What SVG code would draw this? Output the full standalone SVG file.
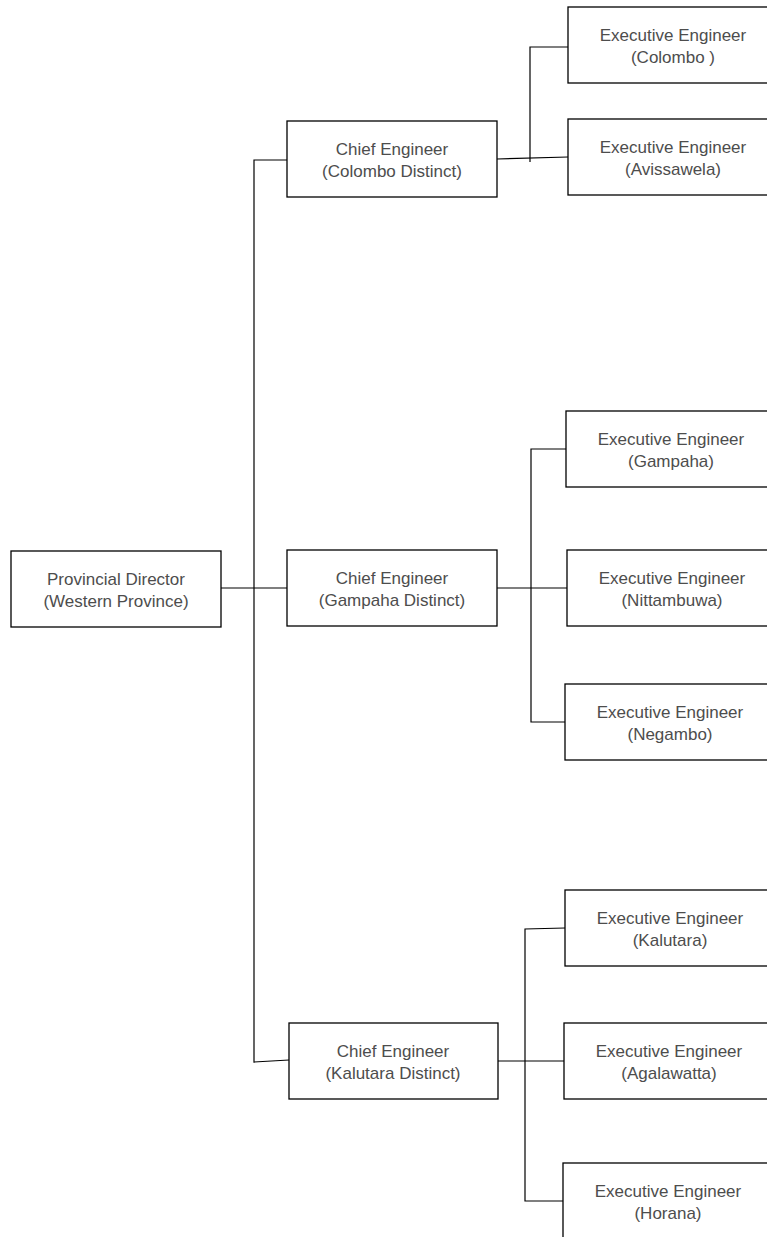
<svg xmlns="http://www.w3.org/2000/svg" width="767" height="1237" viewBox="0 0 767 1237">
<style>
  .box { fill: #ffffff; stroke: #000000; stroke-width: 1.3; }
  .lbl { font-family: "Liberation Sans", Arial, sans-serif; font-size: 17px; fill: #4d4d4d; text-anchor: middle; }
  .conn { stroke: #000000; stroke-width: 1.2; fill: none; }
</style>
<rect x="0" y="0" width="767" height="1237" fill="#ffffff"/>
<g id="connectors">
  <polyline class="conn" points="287,160 254,160 254,1062 289,1060"/>
  <line class="conn" x1="221" y1="588" x2="287" y2="588"/>
  <line class="conn" x1="497" y1="159" x2="568" y2="157"/>
  <polyline class="conn" points="568,47 530,47 530,162"/>
  <polyline class="conn" points="566,449 531,449 531,722 565,722"/>
  <line class="conn" x1="497" y1="588" x2="567" y2="588"/>
  <polyline class="conn" points="565,928 525,929 525,1201 563,1201"/>
  <line class="conn" x1="498" y1="1061" x2="564" y2="1061"/>
</g>
<g id="prov">
  <rect class="box" x="11" y="551" width="210" height="76"/>
  <text class="lbl" x="116" y="585">Provincial Director</text>
  <text class="lbl" x="116" y="607">(Western Province)</text>
</g>
<g id="ce_colombo">
  <rect class="box" x="287" y="121" width="210" height="76"/>
  <text class="lbl" x="392" y="155">Chief Engineer</text>
  <text class="lbl" x="392" y="177">(Colombo Distinct)</text>
</g>
<g id="ce_gampaha">
  <rect class="box" x="287" y="550" width="210" height="76"/>
  <text class="lbl" x="392" y="584">Chief Engineer</text>
  <text class="lbl" x="392" y="606">(Gampaha Distinct)</text>
</g>
<g id="ce_kalutara">
  <rect class="box" x="289" y="1023" width="209" height="76"/>
  <text class="lbl" x="393" y="1057">Chief Engineer</text>
  <text class="lbl" x="393" y="1079">(Kalutara Distinct)</text>
</g>
<g id="ee_colombo">
  <rect class="box" x="568" y="7" width="210" height="76"/>
  <text class="lbl" x="673" y="41">Executive Engineer</text>
  <text class="lbl" x="673" y="63">(Colombo )</text>
</g>
<g id="ee_avissawela">
  <rect class="box" x="568" y="119" width="210" height="76"/>
  <text class="lbl" x="673" y="153">Executive Engineer</text>
  <text class="lbl" x="673" y="175">(Avissawela)</text>
</g>
<g id="ee_gampaha">
  <rect class="box" x="566" y="411" width="210" height="76"/>
  <text class="lbl" x="671" y="445">Executive Engineer</text>
  <text class="lbl" x="671" y="467">(Gampaha)</text>
</g>
<g id="ee_nittambuwa">
  <rect class="box" x="567" y="550" width="210" height="76"/>
  <text class="lbl" x="672" y="584">Executive Engineer</text>
  <text class="lbl" x="672" y="606">(Nittambuwa)</text>
</g>
<g id="ee_negambo">
  <rect class="box" x="565" y="684" width="210" height="76"/>
  <text class="lbl" x="670" y="718">Executive Engineer</text>
  <text class="lbl" x="670" y="740">(Negambo)</text>
</g>
<g id="ee_kalutara">
  <rect class="box" x="565" y="890" width="210" height="76"/>
  <text class="lbl" x="670" y="924">Executive Engineer</text>
  <text class="lbl" x="670" y="946">(Kalutara)</text>
</g>
<g id="ee_agalawatta">
  <rect class="box" x="564" y="1023" width="210" height="76"/>
  <text class="lbl" x="669" y="1057">Executive Engineer</text>
  <text class="lbl" x="669" y="1079">(Agalawatta)</text>
</g>
<g id="ee_horana">
  <rect class="box" x="563" y="1163" width="210" height="76"/>
  <text class="lbl" x="668" y="1197">Executive Engineer</text>
  <text class="lbl" x="668" y="1219">(Horana)</text>
</g>
</svg>
